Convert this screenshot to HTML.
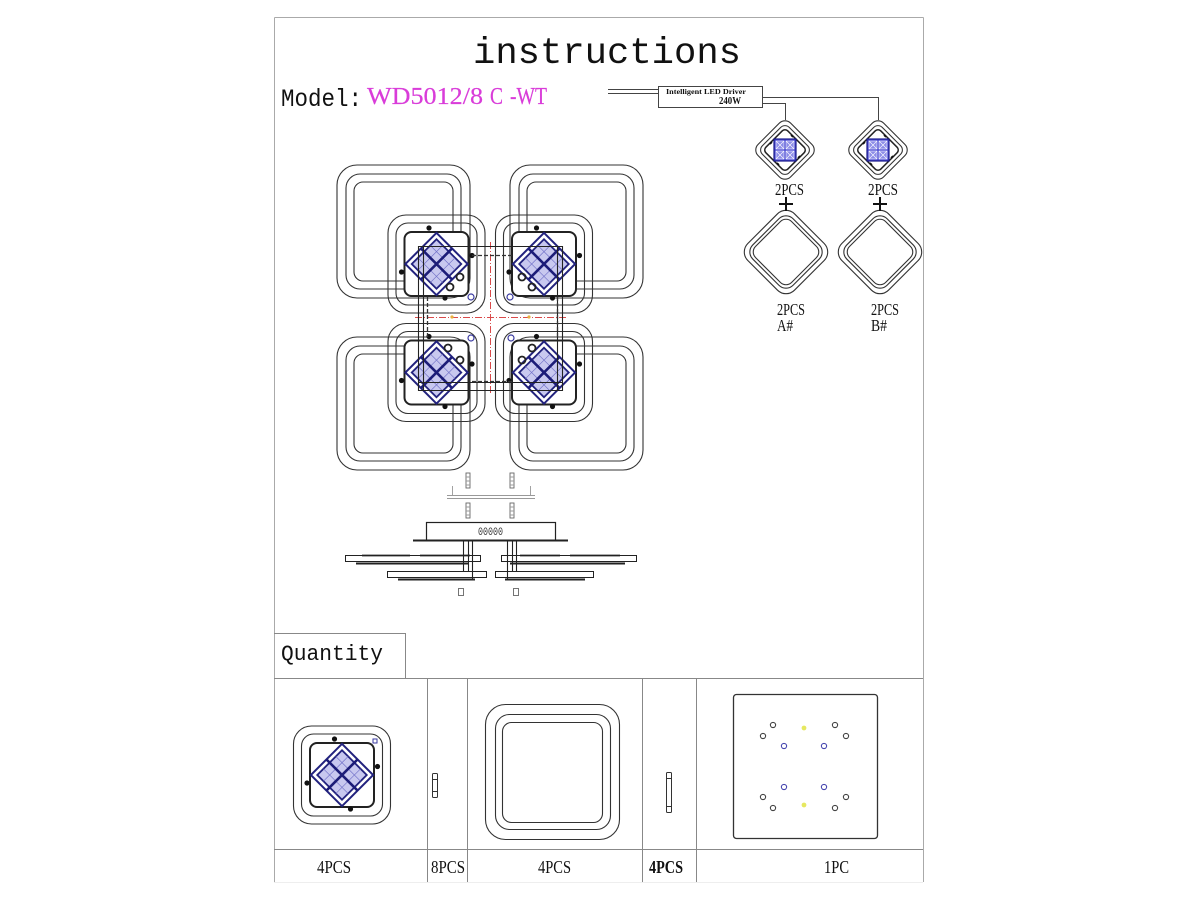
<!DOCTYPE html>
<html><head><meta charset="utf-8">
<style>
html,body{margin:0;padding:0;background:#fff;}
svg{display:block;}
</style></head><body>
<svg width="1200" height="900" viewBox="0 0 1200 900" xmlns="http://www.w3.org/2000/svg">
<defs>
 <g id="led">
   <g transform="rotate(45)">
     <rect x="-22" y="-22" width="44" height="44" fill="none" stroke="#22227e" stroke-width="2"/>
     <rect x="-17.5" y="-17.5" width="35" height="35" fill="#c8c8ef" stroke="#22227e" stroke-width="1.8"/>
     <path d="M-8.75 -17.5V17.5M8.75 -17.5V17.5M-17.5 -8.75H17.5M-17.5 8.75H17.5" stroke="#7070c8" stroke-width="0.7" fill="none"/>
     <path d="M0 -22V22M-22 0H22" stroke="#1c1c78" stroke-width="2.6" fill="none"/>
   </g>
 </g>
 <g id="mod">
   <rect x="-48.5" y="-49" width="97" height="98" rx="18" fill="none" stroke="#333" stroke-width="1.1"/>
   <rect x="-40.5" y="-41" width="81" height="82" rx="12" fill="none" stroke="#333" stroke-width="1.1"/>
   <rect x="-32" y="-32" width="64" height="64" rx="7" fill="#fff" stroke="#222" stroke-width="2"/>
   <use href="#led"/>
   <circle cx="-7.5" cy="-36" r="2.6" fill="#111"/>
   <circle cx="35.5" cy="-8.5" r="2.6" fill="#111"/>
   <circle cx="-35" cy="8" r="2.6" fill="#111"/>
   <circle cx="8.5" cy="34" r="2.6" fill="#111"/>
 </g>
 <g id="sd">
   <g transform="rotate(45)" fill="none" stroke="#333">
     <rect x="-23" y="-23" width="46" height="46" rx="8" stroke-width="1.1"/>
     <rect x="-19" y="-19" width="38" height="38" rx="6" stroke-width="1.1"/>
     <rect x="-15.5" y="-15.5" width="31" height="31" rx="4" stroke-width="1.5" stroke="#222"/>
   </g>
   <rect x="-11" y="-11" width="22" height="22" fill="#4a4ad2" stroke="#1a1a8a" stroke-width="1.2"/>
   <g fill="#8c8ce8" stroke="#fff" stroke-width="0.6">
     <rect x="-9" y="-9" width="8" height="8"/>
     <rect x="1" y="-9" width="8" height="8"/>
     <rect x="-9" y="1" width="8" height="8"/>
     <rect x="1" y="1" width="8" height="8"/>
   </g>
   <path d="M-9 -9l8 8M-1 -9l-8 8M1 -9l8 8M9 -9l-8 8M-9 1l8 8M-1 1l-8 8M1 1l8 8M9 1l-8 8" stroke="#fff" stroke-width="0.6"/>
   <path d="M-15 -6l2 -2M15 6l-2 2M-6 15l-2 -2M6 -15l2 2" stroke="#111" stroke-width="1.6"/>
 </g>
 <g id="bd">
   <g transform="rotate(45)" fill="none" stroke="#333" stroke-width="1.1">
     <rect x="-33" y="-33" width="66" height="66" rx="12"/>
     <rect x="-28.5" y="-28.5" width="57" height="57" rx="10"/>
     <rect x="-25.5" y="-25.5" width="51" height="51" rx="8"/>
   </g>
 </g>
 <g id="bigsq" fill="none" stroke="#333" stroke-width="1.1">
   <rect x="0" y="0" width="133" height="133" rx="20"/>
   <rect x="9" y="9" width="115" height="115" rx="14"/>
   <rect x="17" y="17" width="99" height="99" rx="9"/>
 </g>
</defs>

<!-- outer border -->
<g stroke="#aaa" stroke-width="1" fill="none">
  <path d="M274.5 17.5H923.5"/>
  <path d="M274.5 17.5V882"/>
  <path d="M923.5 17.5V882"/>
</g>
<path d="M274 882.5H923" stroke="#eee" stroke-width="1"/>

<!-- title -->
<text x="473" y="63" font-family="Liberation Mono, monospace" font-size="37" textLength="268" lengthAdjust="spacingAndGlyphs" fill="#111">instructions</text>
<text x="281" y="106" font-family="Liberation Mono, monospace" font-size="25" textLength="81" lengthAdjust="spacingAndGlyphs" fill="#111">Model:</text>
<g font-family="Liberation Serif, serif" font-size="24" fill="#d93cd9" stroke="#d93cd9" stroke-width="0.2">
  <text x="367" y="104" textLength="116" lengthAdjust="spacingAndGlyphs">WD5012/8</text>
  <text x="490" y="104" textLength="13" lengthAdjust="spacingAndGlyphs">C</text>
  <text x="510" y="104" textLength="37" lengthAdjust="spacingAndGlyphs">-WT</text>
</g>

<!-- driver -->
<g stroke="#444" stroke-width="1" fill="none">
  <path d="M608 89.5H658M608 93.5H658"/>
  <rect x="658.5" y="86.5" width="104" height="21"/>
  <path d="M762.5 97.5H878.5V120"/>
  <path d="M762.5 103.5H785.5V120"/>
</g>
<text x="666" y="94" font-family="Liberation Serif, serif" font-size="7" font-weight="bold" textLength="80" lengthAdjust="spacingAndGlyphs" fill="#111">Intelligent LED Driver</text>
<text x="719" y="104" font-family="Liberation Serif, serif" font-size="10" font-weight="bold" textLength="22" lengthAdjust="spacingAndGlyphs" fill="#111">240W</text>

<!-- right diagrams -->
<use href="#sd" transform="translate(785,150)"/>
<use href="#sd" transform="translate(878,150)"/>
<use href="#bd" transform="translate(786,252)"/>
<use href="#bd" transform="translate(880,252)"/>
<g font-family="Liberation Serif, serif" font-size="17" fill="#111">
  <text x="775" y="195" textLength="29" lengthAdjust="spacingAndGlyphs">2PCS</text>
  <text x="868" y="195" textLength="30" lengthAdjust="spacingAndGlyphs">2PCS</text>
  <text x="777" y="315" textLength="28" lengthAdjust="spacingAndGlyphs">2PCS</text>
  <text x="871" y="315" textLength="28" lengthAdjust="spacingAndGlyphs">2PCS</text>
  <text x="777" y="331" textLength="16" lengthAdjust="spacingAndGlyphs">A#</text>
  <text x="871" y="331" textLength="16" lengthAdjust="spacingAndGlyphs">B#</text>
</g>
<g stroke="#111" stroke-width="2">
  <path d="M786 197V211M779 204H793"/>
  <path d="M880 197V211M873 204H887"/>
</g>

<!-- main lamp big squares -->
<use href="#bigsq" transform="translate(337,165)"/>
<use href="#bigsq" transform="translate(510,165)"/>
<use href="#bigsq" transform="translate(337,337)"/>
<use href="#bigsq" transform="translate(510,337)"/>

<!-- red cross -->
<g stroke="#d94a4a" stroke-width="1" stroke-dasharray="7,2,1,2" fill="none">
  <path d="M490.5 242V394"/>
  <path d="M415 317.5H567"/>
</g>

<!-- modules -->
<use href="#mod" transform="translate(436.5,264)"/>
<use href="#mod" transform="translate(544,264)"/>
<use href="#mod" transform="translate(436.5,372.5)"/>
<use href="#mod" transform="translate(544,372.5)"/>

<!-- corner extras -->
<g fill="none" stroke-width="1.2">
  <circle cx="471" cy="297" r="3" stroke="#3a3aa0"/>
  <circle cx="510" cy="297" r="3" stroke="#3a3aa0"/>
  <circle cx="471" cy="338" r="3" stroke="#3a3aa0"/>
  <circle cx="511" cy="338" r="3" stroke="#3a3aa0"/>
  <g stroke="#222" stroke-width="1.8">
    <circle cx="460" cy="277" r="3.5"/>
    <circle cx="450" cy="287" r="3.5"/>
    <circle cx="522" cy="277" r="3.5"/>
    <circle cx="532" cy="287" r="3.5"/>
    <circle cx="448" cy="348" r="3.5"/>
    <circle cx="460" cy="360" r="3.5"/>
    <circle cx="532" cy="348" r="3.5"/>
    <circle cx="522" cy="360" r="3.5"/>
  </g>
</g>

<!-- connection wires -->
<g stroke="#222" stroke-width="1.1" fill="none">
  <path d="M418.5 246.5H562.5V390.5H418.5Z"/>
  <path d="M423.5 246.5V390.5M557.5 246.5V390.5M418.5 382.5H562.5"/>
</g>
<g stroke="#333" stroke-width="1.3" fill="none" stroke-dasharray="4,2">
  <path d="M472 255.5H513"/>
  <path d="M472 381.5H513"/>
  <path d="M427.5 297V337"/>
  <path d="M557.5 297V337"/>
</g>
<circle cx="452" cy="317" r="1.6" fill="#e8b040"/>
<circle cx="529" cy="317" r="1.6" fill="#e8b040"/>

<!-- side view -->
<g stroke="#666" stroke-width="0.9" fill="#fff">
  <rect x="466" y="473" width="4" height="15"/>
  <rect x="510" y="473" width="4" height="15"/>
  <rect x="466" y="503" width="4" height="15"/>
  <rect x="510" y="503" width="4" height="15"/>
</g>
<g stroke="#999" stroke-width="0.9" fill="none">
  <path d="M447 495.5H535M447 498.5H535"/>
  <path d="M452.5 486V495M530.5 486V495"/>
  <path d="M466 477H470M466 481H470M466 485H470M510 477H514M510 481H514M510 485H514M466 507H470M466 511H470M466 515H470M510 507H514M510 511H514M510 515H514"/>
</g>
<g stroke="#222" fill="none">
  <rect x="426.5" y="522.5" width="129" height="18" stroke-width="1.2"/>
  <path d="M413 540.5H568" stroke-width="2"/>
  <path d="M463.5 541V572M468.5 541V572M472.5 541V580" stroke-width="1.1"/>
  <path d="M507.5 541V580M512.5 541V572M516.5 541V572" stroke-width="1.1"/>
  <rect x="345.5" y="555.5" width="135" height="6" stroke-width="1"/>
  <rect x="387.5" y="571.5" width="99" height="6" stroke-width="1"/>
  <rect x="501.5" y="555.5" width="135" height="6" stroke-width="1"/>
  <rect x="495.5" y="571.5" width="98" height="6" stroke-width="1"/>
  <path d="M356 563.5H468M398 579.5H475M510 563.5H625M505 579.5H585" stroke-width="2"/>
  <path d="M362 555.5H410M420 555.5H470M520 555.5H560M570 555.5H620" stroke-width="1.8"/>
</g>
<text x="478" y="535" font-family="Liberation Mono, monospace" font-size="11" textLength="25" lengthAdjust="spacingAndGlyphs" fill="#333">00000</text>
<g stroke="#666" stroke-width="0.9" fill="#fff">
  <rect x="458.5" y="588.5" width="5" height="7"/>
  <rect x="513.5" y="588.5" width="5" height="7"/>
</g>

<!-- quantity table -->
<g stroke="#888" stroke-width="1" fill="none">
  <path d="M274 633.5H405.5V678"/>
  <path d="M274 678.5H923"/>
  <path d="M274 849.5H923"/>
  <path d="M427.5 678V882M467.5 678V882M642.5 678V882M696.5 678V882"/>
</g>
<text x="281" y="660" font-family="Liberation Mono, monospace" font-size="22" textLength="102" lengthAdjust="spacingAndGlyphs" fill="#111">Quantity</text>

<!-- item 1 -->
<use href="#mod" transform="translate(342,775)"/>
<rect x="373" y="739" width="4" height="4" fill="none" stroke="#3a3aa0" stroke-width="1"/>

<!-- item 2 screw -->
<g stroke="#333" stroke-width="1" fill="#fff">
  <rect x="432.5" y="773.5" width="5" height="24" rx="1"/>
  <path d="M432.5 779.5H437.5M432.5 791.5H437.5"/>
</g>

<!-- item 3 big ring -->
<g fill="none" stroke="#333" stroke-width="1.1">
  <rect x="485.5" y="704.5" width="134" height="135" rx="20"/>
  <rect x="495.5" y="714.5" width="115" height="115" rx="14"/>
  <rect x="502.5" y="722.5" width="100" height="100" rx="9"/>
</g>

<!-- item 4 screw -->
<g stroke="#333" stroke-width="1" fill="#fff">
  <rect x="666.5" y="772.5" width="5" height="40" rx="1"/>
  <path d="M666.5 778.5H671.5M666.5 806.5H671.5"/>
</g>

<!-- item 5 plate -->
<rect x="733.5" y="694.5" width="144" height="144" rx="3" fill="none" stroke="#333" stroke-width="1.3"/>
<g fill="none" stroke-width="1.1">
  <g stroke="#444">
    <circle cx="773" cy="725" r="2.6"/>
    <circle cx="763" cy="736" r="2.6"/>
    <circle cx="835" cy="725" r="2.6"/>
    <circle cx="846" cy="736" r="2.6"/>
    <circle cx="763" cy="797" r="2.6"/>
    <circle cx="773" cy="808" r="2.6"/>
    <circle cx="835" cy="808" r="2.6"/>
    <circle cx="846" cy="797" r="2.6"/>
  </g>
  <g stroke="#4848b0">
    <circle cx="784" cy="746" r="2.6"/>
    <circle cx="824" cy="746" r="2.6"/>
    <circle cx="784" cy="787" r="2.6"/>
    <circle cx="824" cy="787" r="2.6"/>
  </g>
</g>
<circle cx="804" cy="728" r="2.4" fill="#e6e860"/>
<circle cx="804" cy="805" r="2.4" fill="#e6e860"/>

<!-- bottom labels -->
<g font-family="Liberation Serif, serif" font-size="18" fill="#111">
  <text x="317" y="873" textLength="34" lengthAdjust="spacingAndGlyphs">4PCS</text>
  <text x="431" y="873" textLength="34" lengthAdjust="spacingAndGlyphs">8PCS</text>
  <text x="538" y="873" textLength="33" lengthAdjust="spacingAndGlyphs">4PCS</text>
  <text x="649" y="873" textLength="34" lengthAdjust="spacingAndGlyphs" font-weight="bold">4PCS</text>
  <text x="824" y="873" textLength="25" lengthAdjust="spacingAndGlyphs">1PC</text>
</g>
</svg>
</body></html>
